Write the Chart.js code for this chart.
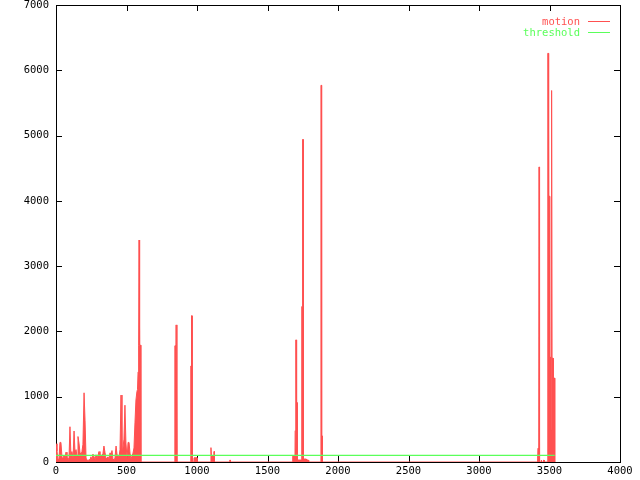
<!DOCTYPE html>
<html>
<head>
<meta charset="utf-8">
<script src="https://cdn.jsdelivr.net/npm/chart.js@4/dist/chart.umd.min.js"></script>
<style>
  body { margin: 0; background: #fff; }
  canvas { display: block; }
</style>
</head>
<body>
<canvas id="plot" width="640" height="480"></canvas>
<script>
// motion 데이터 (x, y) - 그림에서 읽은 값
const motionX = [
  0, 7, 14, 21, 28, 35, 43, 50, 57, 64, 71, 78, 85, 92, 99, 106, 113, 121, 128, 135,
  142, 149, 156, 163, 170, 177, 184, 191, 199, 206, 213, 220, 227, 234, 241, 248, 255, 262, 270, 277,
  284, 291, 298, 305, 312, 319, 326, 333, 340, 348, 355, 362, 369, 376, 383, 390, 397, 404, 411, 418,
  426, 433, 440, 447, 454, 461, 468, 475, 482, 489, 496, 504, 511, 518, 525, 532, 539, 546, 553, 560,
  567, 574, 578, 582, 586, 589, 593, 600, 602,
  842, 843, 851, 852, 857, 858,
  955, 956, 960, 961, 965, 966, 978, 979, 1000, 1001,
  1098, 1099, 1102, 1118, 1120, 1123, 1124,
  1232, 1233, 1236, 1237,
  1678, 1679, 1695, 1696, 1700, 1701, 1704, 1705, 1708, 1710, 1711, 1740, 1743, 1748, 1749, 1753, 1754, 1775, 1777, 1790, 1792,
  1878, 1879, 1883, 1884, 1888, 1889,
  3412, 3413, 3418, 3419, 3423, 3424, 3426, 3429, 3430,
  3440, 3441, 3443, 3444, 3458, 3459, 3461, 3462,
  3487, 3488, 3492, 3494, 3503, 3504, 3507, 3508, 3512, 3513, 3517, 3518, 3526, 3527, 3537, 3537
];
const motionY = [
  280, 170, 40, 40, 300, 300, 60, 60, 100, 60, 150, 50, 60, 40, 540, 100, 160, 60, 475, 140,
  190, 90, 390, 290, 150, 110, 160, 270, 1060, 640, 60, 30, 20, 40, 30, 80, 30, 120, 80, 40,
  110, 60, 100, 160, 70, 110, 90, 130, 245, 140, 50, 60, 80, 40, 140, 100, 175, 50, 30, 60,
  245, 110, 100, 80, 190, 1025, 110, 220, 350, 870, 290, 50, 300, 300, 135, 45, 45, 135, 215, 600,
  950, 1080, 1110, 1380, 1790, 3400, 1790, 1790, 0,
  0, 1780, 1780, 2100, 2100, 0,
  0, 1470, 1470, 2240, 2240, 0, 0, 65, 65, 0,
  0, 220, 90, 90, 160, 160, 0,
  0, 30, 30, 0,
  0, 90, 90, 480, 480, 1870, 1870, 480, 910, 910, 30, 30, 2380, 2380, 4940, 4940, 45, 45, 30, 30, 0,
  0, 5770, 5770, 400, 400, 0,
  0, 60, 60, 210, 210, 60, 4520, 4520, 0,
  0, 30, 30, 0, 0, 30, 30, 0,
  0, 6260, 6260, 4070, 4070, 1610, 1610, 490, 490, 5690, 5690, 1590, 1590, 1285, 1285, 0
];

// threshold 데이터
const thresholdX = [0, 3537];
const thresholdY = [100, 100];

// 축 눈금
const xTicks = [0, 500, 1000, 1500, 2000, 2500, 3000, 3500, 4000];
const yTicks = [0, 1000, 2000, 3000, 4000, 5000, 6000, 7000];

const RED = 'rgb(255, 80, 80)';
const GREEN = 'rgb(90, 255, 90)';
const FONT = '"DejaVu Sans Mono", "Liberation Mono", monospace';

function toPoints(xs, ys) {
    return xs.map((x, i) => ({ x: x, y: ys[i] }));
}

// 테두리 + 안쪽 눈금 (gnuplot 스타일)
const framePlugin = {
    id: 'frame',
    beforeDatasetsDraw(chart) {
        const { ctx, chartArea: a, scales } = chart;
        ctx.save();
        ctx.strokeStyle = '#000';
        ctx.lineWidth = 1;
        ctx.strokeRect(a.left + 0.5, a.top + 0.5, a.right - a.left, a.bottom - a.top);
        const len = 6;
        ctx.beginPath();
        xTicks.forEach(v => {
            const px = Math.round(scales.x.getPixelForValue(v)) + 0.5;
            ctx.moveTo(px, a.bottom); ctx.lineTo(px, a.bottom - len);
            ctx.moveTo(px, a.top); ctx.lineTo(px, a.top + len);
        });
        yTicks.forEach(v => {
            const py = Math.round(scales.y.getPixelForValue(v)) + 0.5;
            ctx.moveTo(a.left, py); ctx.lineTo(a.left + len, py);
            ctx.moveTo(a.right, py); ctx.lineTo(a.right - len, py);
        });
        ctx.stroke();
        ctx.restore();
    },
    afterDatasetsDraw(chart) {
        // 범례 (오른쪽 위)
        const { ctx } = chart;
        ctx.save();
        ctx.font = '10.5px ' + FONT;
        ctx.textAlign = 'right';
        ctx.textBaseline = 'middle';
        chart.data.datasets
            .slice()
            .sort((p, q) => p.legendRow - q.legendRow)
            .forEach((ds, i) => {
                const y = 22 + i * 11;
                ctx.fillStyle = ds.borderColor;
                ctx.fillText(ds.label, 580, y);
                ctx.strokeStyle = ds.borderColor;
                ctx.lineWidth = 1;
                ctx.beginPath();
                ctx.moveTo(588, y - 0.5);
                ctx.lineTo(610, y - 0.5);
                ctx.stroke();
            });
        ctx.restore();
    }
};

new Chart(document.getElementById('plot'), {
    type: 'line',
    data: {
        datasets: [
            {
                label: 'threshold',
                legendRow: 1,
                data: toPoints(thresholdX, thresholdY),
                borderColor: GREEN,
                borderWidth: 1.3,
                pointRadius: 0,
                fill: false,
                order: 0
            },
            {
                label: 'motion',
                legendRow: 0,
                data: toPoints(motionX, motionY),
                borderColor: RED,
                backgroundColor: RED,
                borderWidth: 1,
                pointRadius: 0,
                tension: 0,
                fill: 'origin',
                order: 1
            }
        ]
    },
    options: {
        responsive: false,
        animation: false,
        layout: { padding: { left: 0, right: 20, top: 5, bottom: 0 } },
        plugins: {
            legend: { display: false },
            tooltip: { enabled: false }
        },
        scales: {
            x: {
                type: 'linear',
                min: 0,
                max: 4000,
                afterBuildTicks: s => { s.ticks = xTicks.map(v => ({ value: v })); },
                afterFit: s => { s.height = 18; s.paddingLeft = 0; s.paddingRight = 0; },
                grid: { display: false, drawTicks: false },
                border: { display: false },
                ticks: {
                    padding: 4,
                    color: '#000',
                    maxRotation: 0,
                    autoSkip: false,
                    callback: v => String(v),
                    font: { family: FONT, size: 10.5, lineHeight: 1 }
                }
            },
            y: {
                type: 'linear',
                min: 0,
                max: 7000,
                afterBuildTicks: s => { s.ticks = yTicks.map(v => ({ value: v })); },
                afterFit: s => { s.width = 56; s.paddingTop = 0; s.paddingBottom = 0; },
                grid: { display: false, drawTicks: false },
                border: { display: false },
                ticks: {
                    padding: 7,
                    color: '#000',
                    autoSkip: false,
                    callback: v => String(v),
                    font: { family: FONT, size: 10.5, lineHeight: 1 }
                }
            }
        }
    },
    plugins: [framePlugin]
});
</script>
</body>
</html>
